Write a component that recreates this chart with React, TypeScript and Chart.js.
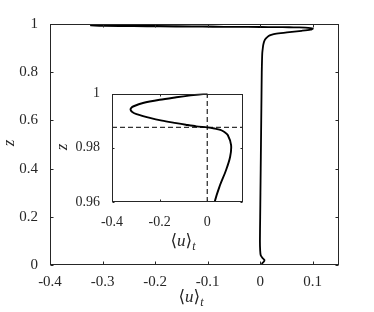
import { useEffect, useRef } from "react";
import { Chart, registerables } from "chart.js";
Chart.register(...registerables);

// Profile <u>_t versus z
const zValues = [
  0, 0.007, 0.014, 0.021, 0.03, 0.04, 0.06, 0.1, 0.2, 0.3, 0.4, 0.5, 0.6, 0.7, 0.8, 0.85, 0.88, 0.9,
  0.915, 0.93, 0.94, 0.95, 0.955, 0.96, 0.9656, 0.9718, 0.9767, 0.981, 0.9847, 0.9858, 0.9866, 0.9871,
  0.9875, 0.9879, 0.9885, 0.9891, 0.99, 0.991, 0.9924, 0.9932, 0.994, 0.9947, 0.9953, 0.9965, 0.9977,
  0.9986, 0.9993, 1,
];
const uValues = [
  0.003, 0.004, 0.007, 0.008, 0.004, 0.001, 0, -0.0005, 0, 0.0005, 0.001, 0.0015, 0.002, 0.0025, 0.003,
  0.0035, 0.004, 0.005, 0.006, 0.008, 0.011, 0.016, 0.021, 0.031, 0.051, 0.079, 0.096, 0.1, 0.086,
  0.072, 0.055, 0.03, 0, -0.046, -0.09, -0.13, -0.19, -0.241, -0.297, -0.315, -0.322, -0.319, -0.309,
  -0.27, -0.2, -0.13, -0.07, 0,
];

const mainXTicks = [-0.4, -0.3, -0.2, -0.1, 0, 0.1];
const mainXLabels = ["-0.4", "-0.3", "-0.2", "-0.1", "0", "0.1"];
const mainYTicks = [0, 0.2, 0.4, 0.6, 0.8, 1];
const mainYLabels = ["0", "0.2", "0.4", "0.6", "0.8", "1"];

const insetXTicks = [-0.4, -0.2, 0];
const insetXLabels = ["-0.4", "-0.2", "0"];
const insetYTicks = [0.96, 0.98, 1];
const insetYLabels = ["0.96", "0.98", "1"];

const dashZ = 0.9875;
const dashU = 0;

const FONT = '"Liberation Serif", "Times New Roman", "DejaVu Serif", serif';
const INK = "#262626";

function drawUT(ctx: CanvasRenderingContext2D, cx: number, by: number, size: number) {
  const parts = [
    { t: "\u27E8", f: `${size}px ${FONT}`, dy: 0 },
    { t: "u", f: `italic ${size}px ${FONT}`, dy: 0 },
    { t: "\u27E9", f: `${size}px ${FONT}`, dy: 0 },
    { t: "t", f: `italic ${Math.round(size * 0.72)}px ${FONT}`, dy: size * 0.24 },
  ];
  let total = 0;
  const widths: number[] = [];
  for (const p of parts) {
    ctx.font = p.f;
    const w = ctx.measureText(p.t).width;
    widths.push(w);
    total += w;
  }
  let x = cx - total / 2;
  ctx.fillStyle = INK;
  ctx.textBaseline = "alphabetic";
  ctx.textAlign = "left";
  parts.forEach((p, i) => {
    ctx.font = p.f;
    ctx.fillText(p.t, x, by + p.dy);
    x += widths[i];
  });
}

function drawZ(ctx: CanvasRenderingContext2D, cx: number, cy: number, size: number) {
  ctx.save();
  ctx.translate(cx, cy);
  ctx.rotate(-Math.PI / 2);
  ctx.font = `italic ${size}px ${FONT}`;
  ctx.fillStyle = INK;
  ctx.textAlign = "center";
  ctx.textBaseline = "middle";
  ctx.fillText("z", 0, 0);
  ctx.restore();
}

function framePlugin(cfg: {
  tick: number;
  white: boolean;
  xTitle: [number, number];
  yTitle: [number, number];
  titleSize: number;
}) {
  return {
    id: "frame",
    beforeDraw(chart: any) {
      if (!cfg.white) return;
      const { ctx, chartArea: a } = chart;
      ctx.save();
      ctx.fillStyle = "#ffffff";
      ctx.fillRect(a.left, a.top, a.right - a.left, a.bottom - a.top);
      ctx.restore();
    },
    afterDraw(chart: any) {
      const { ctx, chartArea: a, scales } = chart;
      ctx.save();
      ctx.strokeStyle = INK;
      ctx.lineWidth = 1;
      const L = Math.round(a.left) + 0.5;
      const R = Math.round(a.right) - 0.5;
      const T = Math.round(a.top) + 0.5;
      const B = Math.round(a.bottom) - 0.5;
      ctx.strokeRect(L, T, R - L, B - T);
      ctx.beginPath();
      for (const t of scales.x.ticks) {
        const px = Math.round(scales.x.getPixelForValue(t.value)) + 0.5;
        ctx.moveTo(px, B);
        ctx.lineTo(px, B - cfg.tick);
        ctx.moveTo(px, T);
        ctx.lineTo(px, T + cfg.tick);
      }
      for (const t of scales.y.ticks) {
        const py = Math.round(scales.y.getPixelForValue(t.value)) + 0.5;
        ctx.moveTo(L, py);
        ctx.lineTo(L + cfg.tick, py);
        ctx.moveTo(R, py);
        ctx.lineTo(R - cfg.tick, py);
      }
      ctx.stroke();
      drawUT(ctx, cfg.xTitle[0], cfg.xTitle[1], cfg.titleSize);
      drawZ(ctx, cfg.yTitle[0], cfg.yTitle[1], cfg.titleSize);
      ctx.restore();
    },
  };
}

function scaleOpts(
  min: number,
  max: number,
  ticks: number[],
  labels: string[],
  fit: (s: any) => void,
  padding: number,
  fontSize: number
) {
  return {
    type: "linear" as const,
    min,
    max,
    grid: { display: false },
    border: { display: false },
    afterBuildTicks: (s: any) => {
      s.ticks = ticks.map((v) => ({ value: v }));
    },
    afterFit: fit,
    ticks: {
      autoSkip: false,
      maxRotation: 0,
      padding,
      color: INK,
      font: { family: FONT, size: fontSize },
      callback: (_v: any, i: number) => labels[i],
    },
  };
}

export default function App() {
  const mainRef = useRef<HTMLCanvasElement>(null);
  const insetRef = useRef<HTMLCanvasElement>(null);

  useEffect(() => {
    document.body.style.margin = "0";
    const points = zValues.map((z, i) => ({ x: uValues[i], y: z }));

    const main = new Chart(mainRef.current!, {
      type: "scatter",
      data: {
        datasets: [
          {
            data: points,
            showLine: true,
            borderColor: "#000",
            borderWidth: 1.8,
            pointRadius: 0,
            tension: 0.25,
          },
        ],
      },
      options: {
        responsive: false,
        animation: false,
        layout: { padding: { top: 24, right: 35, left: 0, bottom: 0 } },
        plugins: { legend: { display: false }, tooltip: { enabled: false } },
        scales: {
          x: scaleOpts(-0.4, 0.15, mainXTicks, mainXLabels, (s) => (s.height = 47), 0, 15),
          y: scaleOpts(0, 1, mainYTicks, mainYLabels, (s) => (s.width = 50), 4, 15),
        },
      },
      plugins: [framePlugin({ tick: 3, white: false, xTitle: [191, 302], yTitle: [10, 143], titleSize: 17 })],
    });

    const inset = new Chart(insetRef.current!, {
      type: "scatter",
      data: {
        datasets: [
          {
            data: points,
            showLine: true,
            borderColor: "#000",
            borderWidth: 1.9,
            pointRadius: 0,
            tension: 0.3,
          },
          {
            data: [
              { x: dashU, y: 0.96 },
              { x: dashU, y: 1 },
            ],
            showLine: true,
            borderColor: "#333",
            borderWidth: 1.3,
            borderDash: [5, 3],
            pointRadius: 0,
          },
          {
            data: [
              { x: -0.4, y: dashZ },
              { x: 0.15, y: dashZ },
            ],
            showLine: true,
            borderColor: "#333",
            borderWidth: 1.3,
            borderDash: [5, 3],
            pointRadius: 0,
          },
        ],
      },
      options: {
        responsive: false,
        animation: false,
        layout: { padding: { top: 15.5, right: 12, left: 0, bottom: 0 } },
        plugins: { legend: { display: false }, tooltip: { enabled: false } },
        scales: {
          x: scaleOpts(-0.4, 0.15, insetXTicks, insetXLabels, (s) => (s.height = 54), 4, 14),
          y: scaleOpts(0.96, 1, insetYTicks, insetYLabels, (s) => (s.width = 72), 4, 14),
        },
      },
      plugins: [framePlugin({ tick: 2, white: true, xTitle: [143, 168], yTitle: [23, 69], titleSize: 17 })],
    });

    return () => {
      main.destroy();
      inset.destroy();
    };
  }, []);

  return (
    <div style={{ position: "fixed", left: 0, top: 0, width: 374, height: 312, background: "#fff" }}>
      <canvas ref={mainRef} width={374} height={312} style={{ position: "absolute", left: 0, top: 0 }} />
      <canvas ref={insetRef} width={215} height={178} style={{ position: "absolute", left: 40, top: 78 }} />
    </div>
  );
}
